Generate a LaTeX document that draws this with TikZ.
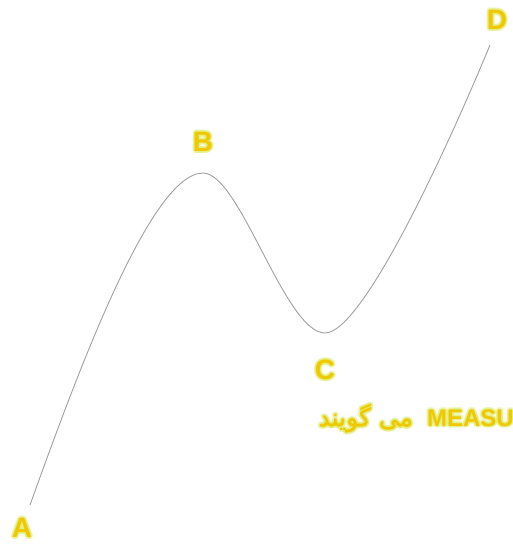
\documentclass[tikz,border=0pt]{standalone}
\usepackage{fontspec}
\setmainfont{Liberation Sans}
\newfontfamily\arabicfont[Script=Arabic,FakeBold=1.2]{DejaVu Sans}
\TeXXeTstate=1
\definecolor{lbl}{RGB}{240,200,0}
\definecolor{halo}{RGB}{226,238,110}
\definecolor{curvegray}{RGB}{160,160,160}
\tikzset{
  lettertext/.style={text=lbl, font=\bfseries\fontsize{28}{28}\selectfont, inner sep=0pt},
  notetext/.style={text=lbl, font=\fontsize{24}{24}\selectfont, inner sep=0pt},
  curveline/.style={draw=curvegray, line width=0.9pt},
}
\newcommand\glowlabel[5]{%
  \foreach \ang in {0,30,...,330}{%
    \node[#3, text=halo, opacity=0.3, #4] at ([shift={(\ang:2pt)}]#2) {#5};}
  \node[#3, #4] (#1) at (#2) {#5};}
\begin{document}
\begin{tikzpicture}[x=1pt,y=-1pt]
\useasboundingbox (0,0) rectangle (512,552);
\clip (0,0) rectangle (512,552);
\fill[white] (0,0) rectangle (512,552);
% curve
\coordinate (pA) at (30,505);
\coordinate (pB) at (203,173);
\coordinate (pC) at (325,333);
\coordinate (pD) at (490,45);
\draw[curveline] (pA) .. controls (75,380) and (150,173) .. (pB)
  .. controls (240,173) and (285,333) .. (pC)
  .. controls (365,333) and (457,125) .. (pD);
% labels
\glowlabel{A}{22,528}{lettertext}{}{A}
\glowlabel{B}{203,142}{lettertext}{}{B}
\glowlabel{C}{325,370}{lettertext}{}{C}
\glowlabel{D}{497,20}{lettertext}{}{D}
\glowlabel{note}{514,418}{notetext}{anchor=east}{\beginR\beginL{\bfseries MEASU}\endL{}\hspace*{14pt}{\arabicfont\fontsize{25}{25}\selectfont می گویند}\endR}
\end{tikzpicture}
\end{document}
